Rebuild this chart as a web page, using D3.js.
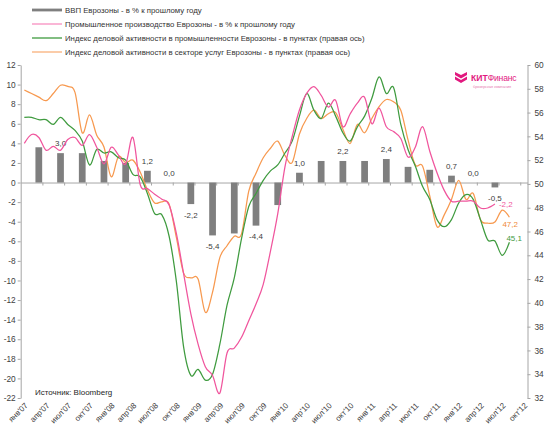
<!DOCTYPE html>
<html><head><meta charset="utf-8">
<script src="https://cdn.jsdelivr.net/npm/d3@7"></script>
<style>body{margin:0;background:#fff}svg{display:block;font-family:"Liberation Sans",Arial,sans-serif}</style>
</head><body><svg id="c" width="550" height="430"></svg>
<script>
const months = [
"2007-01","2007-02","2007-03","2007-04","2007-05","2007-06","2007-07","2007-08","2007-09","2007-10","2007-11","2007-12",
"2008-01","2008-02","2008-03","2008-04","2008-05","2008-06","2008-07","2008-08","2008-09","2008-10","2008-11","2008-12",
"2009-01","2009-02","2009-03","2009-04","2009-05","2009-06","2009-07","2009-08","2009-09","2009-10","2009-11","2009-12",
"2010-01","2010-02","2010-03","2010-04","2010-05","2010-06","2010-07","2010-08","2010-09","2010-10","2010-11","2010-12",
"2011-01","2011-02","2011-03","2011-04","2011-05","2011-06","2011-07","2011-08","2011-09","2011-10","2011-11","2011-12",
"2012-01","2012-02","2012-03","2012-04","2012-05","2012-06","2012-07","2012-08","2012-09","2012-10"];
const tickMonths = ["2007-01","2007-04","2007-07","2007-10","2008-01","2008-04","2008-07","2008-10","2009-01","2009-04","2009-07","2009-10",
"2010-01","2010-04","2010-07","2010-10","2011-01","2011-04","2011-07","2011-10","2012-01","2012-04","2012-07","2012-10"];
const tickLabels = ["янв'07","апр'07","июл'07","окт'07","янв'08","апр'08","июл'08","окт'08","янв'09","апр'09","июл'09","окт'09",
"янв'10","апр'10","июл'10","окт'10","янв'11","апр'11","июл'11","окт'11","янв'12","апр'12","июл'12","окт'12"];
const quarters = ["2007-03","2007-06","2007-09","2007-12","2008-03","2008-06","2008-09","2008-12","2009-03","2009-06","2009-09","2009-12",
"2010-03","2010-06","2010-09","2010-12","2011-03","2011-06","2011-09","2011-12","2012-03","2012-06"];
const gdp = [3.6,3.0,3.0,2.2,2.0,1.2,0.0,-2.2,-5.4,-5.2,-4.4,-2.3,1.0,2.2,2.2,2.2,2.4,1.6,1.3,0.7,0.0,-0.5];
const gdpLabelShown = [0,1,0,0,0,1,1,1,1,0,1,0,1,0,1,0,1,0,0,1,1,1];
// Industrial production, % y/y (left axis), Jan07..Jun12
const industry = [4.0,4.9,4.6,3.3,3.7,3.3,4.4,4.6,3.8,4.9,3.6,1.9,
3.6,2.8,1.9,4.6,-0.2,-0.6,-1.2,-1.7,-2.3,-5.2,-9.3,-13.4,
-16.5,-18.8,-19.7,-21.5,-17.4,-16.9,-15.8,-14.1,-12.4,-10.4,-7.0,-3.2,
1.6,4.7,7.4,9.1,9.8,8.9,7.7,8.4,5.7,7.0,8.1,8.7,
6.0,7.6,5.7,5.2,4.5,2.6,3.6,5.7,3.2,1.0,-0.8,-1.9,
-1.9,-1.9,-1.9,-2.6,-2.6,-2.2];
// Manufacturing PMI (right axis), Jan07..Aug12
const pmiManufacturing = [55.6,55.6,55.4,55.4,55.0,55.6,55.0,54.5,53.6,51.6,52.9,52.6,
52.7,52.2,52.0,50.8,50.6,49.2,47.5,47.4,45.6,41.8,36.3,33.9,
34.4,33.5,34.0,36.5,39.8,42.1,45.4,48.1,49.2,50.3,51.1,51.6,
52.6,53.6,55.7,57.6,56.2,55.5,56.8,55.7,54.3,53.6,54.8,55.7,
57.2,59.0,57.6,58.1,55.0,52.9,51.5,49.8,48.7,47.0,46.4,47.0,
48.4,49.1,48.7,47.0,45.3,45.2,44.0,45.1];
// Services PMI (right axis), Jan07..Aug12
const pmiServices = [57.9,57.6,57.3,57.0,57.6,58.3,58.2,57.7,54.3,55.8,54.1,53.1,
50.6,52.3,51.8,52.0,51.0,49.5,48.4,48.5,48.3,45.5,42.5,42.1,
42.0,39.2,40.9,43.8,44.8,45.6,45.8,49.4,50.9,52.2,53.0,53.6,
52.4,51.8,54.2,55.5,56.2,55.5,55.9,56.0,54.6,53.4,55.0,54.3,
55.5,56.5,57.1,56.9,56.2,53.7,51.6,51.5,49.0,46.4,47.4,48.7,
50.3,48.7,49.2,47.0,46.7,46.8,47.8,47.2];
const legendNames = ["ВВП Еврозоны - в % к прошлому году",
"Промышленное производство Еврозоны - в % к прошлому году",
"Индекс деловой активности в промышленности Еврозоны - в пунктах (правая ось)",
"Индекс деловой активности в секторе услуг Еврозоны - в пунктах (правая ось)"];
const colors = {gdp:"#7f7f7f", ind:"#f0559d", mfg:"#3f9b3f", srv:"#f7994f"};
const sourceText = "Источник: Bloomberg";

const svg = d3.select("#c");
const L = 20.7, R = 527.5, T = 65, B = 398;
const x = d3.scaleBand().domain(months).range([L, R]).padding(0);
const xc = m => x(m) + x.bandwidth() / 2;
const xi = d3.scaleLinear().domain([0, months.length]).range([L, R]);
const yL = d3.scaleLinear().domain([-22, 12]).range([B, T]);
const yR = d3.scaleLinear().domain([32, 60]).range([B, T]);
const fmt = v => d3.format(".1f")(v).replace("−", "-").replace(".", ",");
const axisCol = "#a6a6a6", textCol = "#404040", fs = "8px";

// left axis
const gl = svg.append("g").attr("transform", `translate(${L},0)`)
  .call(d3.axisLeft(yL).tickValues(d3.range(-22, 13, 2)).tickSize(3).tickSizeOuter(0).tickFormat(d => String(d)));
// right axis
const gr = svg.append("g").attr("transform", `translate(${R},0)`)
  .call(d3.axisRight(yR).tickValues(d3.range(32, 61, 2)).tickSize(3).tickSizeOuter(0).tickFormat(d => String(d)));
// zero line with quarter ticks
const gz = svg.append("g").attr("transform", `translate(0,${yL(0)})`)
  .call(d3.axisBottom(xi).tickValues(d3.range(3, months.length + 1, 3)).tickSize(3).tickSizeOuter(0).tickFormat(""));
[gl, gr, gz].forEach(g => {
  g.selectAll("path,line").attr("stroke", axisCol);
  g.selectAll("text").attr("fill", textCol).style("font-size", "8.3px").style("font-family", "Liberation Sans, Arial, sans-serif");
});
gl.selectAll("text").attr("x", -5);
gr.selectAll("text").attr("x", 7);

// x labels
svg.append("g").selectAll("text").data(tickMonths).join("text")
  .attr("transform", d => `translate(${xc(d) + 2},${B + 6}) rotate(-45)`)
  .attr("text-anchor", "end").attr("dy", "0.35em")
  .attr("fill", textCol).style("font-size", fs)
  .text((d, i) => tickLabels[i]);

// bars
const bw = x.bandwidth() * 0.93;
svg.append("g").selectAll("rect").data(gdp).join("rect")
  .attr("x", (d, i) => xc(quarters[i]) - bw / 2)
  .attr("width", bw)
  .attr("y", d => yL(Math.max(0, d)))
  .attr("height", d => Math.abs(yL(d) - yL(0)))
  .attr("fill", colors.gdp);
svg.append("g").selectAll("text")
  .data(gdp.map((v, i) => ({v, q: quarters[i], s: gdpLabelShown[i]})).filter(d => d.s))
  .join("text")
  .attr("x", d => xc(d.q)).attr("text-anchor", "middle")
  .attr("y", d => d.v >= 0 ? yL(d.v) - 7 : yL(d.v) + 13.5)
  .attr("fill", textCol).style("font-size", fs)
  .text(d => fmt(d.v));

// lines
const curve = d3.curveCardinal.tension(0);
const lineL = d3.line().x((d, i) => xc(months[i])).y(d => yL(d)).curve(curve);
const lineR = d3.line().x((d, i) => xc(months[i])).y(d => yR(d)).curve(curve);
svg.append("path").attr("d", lineR(pmiServices)).attr("fill", "none").attr("stroke", colors.srv).attr("stroke-width", 1.25);
svg.append("path").attr("d", lineR(pmiManufacturing)).attr("fill", "none").attr("stroke", colors.mfg).attr("stroke-width", 1.25);
svg.append("path").attr("d", lineL(industry)).attr("fill", "none").attr("stroke", colors.ind).attr("stroke-width", 1.25);

// end labels
const li = industry.length - 1, ls = pmiServices.length - 1, lm = pmiManufacturing.length - 1;
const endG = svg.append("g").style("font-size", fs);
endG.append("text").attr("x", xc(months[li]) + 4).attr("y", yL(industry[li]) + 3).attr("fill", colors.ind).text(fmt(industry[li]));
endG.append("text").attr("x", xc(months[ls]) - 7).attr("y", yR(pmiServices[ls]) + 10).attr("fill", "#f08a3a").text(fmt(pmiServices[ls]));
endG.append("text").attr("x", xc(months[lm]) - 3).attr("y", yR(pmiManufacturing[lm]) - 1).attr("fill", colors.mfg).text(fmt(pmiManufacturing[lm]));

// legend
const lg = svg.append("g");
const legendY = [10, 24, 38, 52];
const legendCols = [colors.gdp, "#f78fc0", "#3f9b3f", "#f9b07a"];
legendNames.forEach((n, i) => {
  if (i === 0) lg.append("rect").attr("x", 32).attr("y", legendY[i] - 1.4).attr("width", 30).attr("height", 2.8).attr("fill", legendCols[i]);
  else lg.append("line").attr("x1", 32).attr("x2", 62).attr("y1", legendY[i]).attr("y2", legendY[i]).attr("stroke", legendCols[i]).attr("stroke-width", 1.3);
  lg.append("text").attr("x", 65).attr("y", legendY[i] + 3).attr("fill", "#333").style("font-size", "7.8px").text(n);
});

// source
svg.append("text").attr("x", 35).attr("y", 394.5).attr("fill", "#262626").style("font-size", fs).text(sourceText);

// logo
const logo = svg.append("g").attr("transform", "translate(455,72)");
const mag = "#e2187f";
logo.append("path").attr("d", "M0,0 L6,3 L12,0 L12,3 L6,6.5 L0,3 Z").attr("fill", mag);
logo.append("path").attr("d", "M0,4.5 L6,8 L12,4.5 L12,7.5 L6,11 L0,7.5 Z").attr("fill", mag);
logo.append("text").attr("x", 16).attr("y", 8.5).attr("fill", mag).style("font-size", "8.6px")
  .call(t => { t.append("tspan").style("font-weight", "bold").text("КИТ"); t.append("tspan").style("letter-spacing", "-0.2px").text("Финанс"); });
logo.append("text").attr("x", 18).attr("y", 15.5).attr("fill", "#e77ab0").style("font-size", "3.8px").text("брокерская компания");
</script></body></html>
